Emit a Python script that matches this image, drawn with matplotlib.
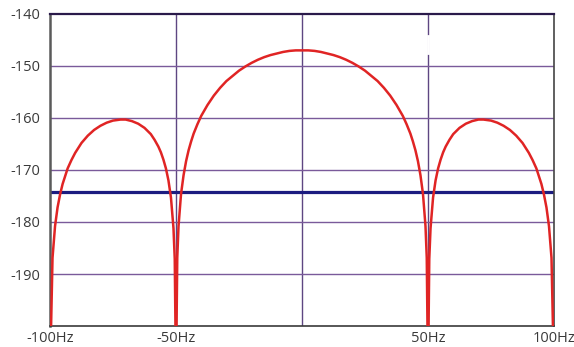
import numpy as np
import matplotlib.pyplot as plt

# spectrum (positive side, mirrored below)
freq_pos = [0, 2.5, 5, 7.5, 10, 12.5, 15, 17.5, 20, 22.5, 25, 27.5, 30, 32.5,
            35, 37.5, 40, 41.5, 43, 44, 45, 46, 47, 48, 49, 49.5, 50,
            50.5, 51, 52, 53, 54, 55, 56, 57, 58.5, 60, 62.5, 65, 67.5, 70,
            72, 75, 77.5, 80, 82.5, 85, 87.5, 90, 91.5, 93, 95, 96, 97, 98,
            99, 100]
level_pos = [-147.0, -147.0, -147.1, -147.3, -147.6, -147.9, -148.3, -148.8,
             -149.4, -150.1, -150.9, -151.9, -152.9, -154.2, -155.7, -157.5,
             -159.6, -161.2, -163.0, -164.5, -166.2, -168.3, -171.0, -174.6,
             -180.8, -186.9, -210.0,
             -187.1, -181.2, -175.3, -172.0, -169.7, -168.0, -166.6, -165.5,
             -164.2, -163.1, -161.9, -161.1, -160.6, -160.3, -160.3, -160.5,
             -160.9, -161.5, -162.3, -163.4, -164.8, -166.7, -168.1, -169.7,
             -172.7, -174.7, -177.2, -180.8, -186.9, -210.0]
noise_floor = -174.2

x_ticks = [-100, -50, 0, 50, 100]
x_labels = ["-100Hz", "-50Hz", "", "50Hz", "100Hz"]
y_ticks = [-140, -150, -160, -170, -180, -190]


def main():
    freq = np.concatenate([-np.array(freq_pos[:0:-1]), freq_pos])
    level = np.concatenate([np.array(level_pos[:0:-1]), level_pos])

    plt.rcParams['font.family'] = ['Open Sans', 'DejaVu Sans']
    plt.rcParams['axes.unicode_minus'] = False
    fig = plt.figure(figsize=(5.74, 3.47), dpi=100)
    ax = fig.add_axes([0.0871, 0.0605, 0.8781, 0.8992])

    ax.set_xlim(-100, 100)
    ax.set_ylim(-200, -140)

    # grid lines
    for v in [-50, 0, 50]:
        ax.axvline(v, color='#5e4682', lw=1.0, zorder=1)
    for v in [-150, -160, -170, -180, -190]:
        ax.axhline(v, color='#7a5a9a', lw=1.0, zorder=1)
    # little break in the 50Hz line near the top
    ax.plot([50, 50], [-144.3, -147.5], color='white', lw=2.0, zorder=1.5)

    ax.axhline(noise_floor, color='#1c1c80', lw=2.3, zorder=2)
    ax.plot(freq, level, color='#e02424', lw=1.8, zorder=3, clip_on=True)

    ax.set_xticks(x_ticks)
    ax.set_xticklabels(x_labels)
    ax.set_yticks(y_ticks)
    ax.tick_params(length=0, labelsize=10.5, colors='#3a3a3a')
    ax.tick_params(axis='x', pad=3.5)
    ax.tick_params(axis='y', pad=7)

    ax.spines['left'].set_color('#5a5a5a')
    ax.spines['left'].set_linewidth(1.8)
    ax.spines['bottom'].set_color('#3a3a3a')
    ax.spines['bottom'].set_linewidth(1.2)
    ax.spines['top'].set_color('#2a1a4a')
    ax.spines['top'].set_linewidth(1.6)
    ax.spines['right'].set_color('#444444')
    ax.spines['right'].set_linewidth(1.2)

    fig.savefig('out.png', dpi=100)
    return


if __name__ == "__main__":
    main()
